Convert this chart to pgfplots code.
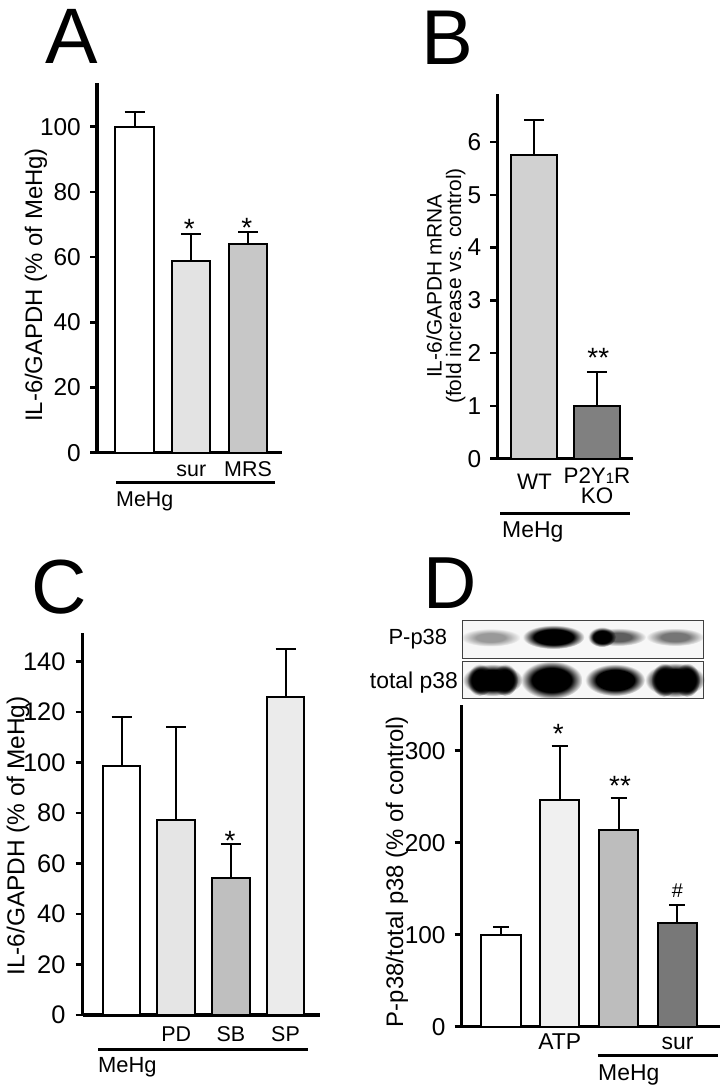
\documentclass[border=0pt]{standalone}
\usepackage{pgfplots}
\pgfplotsset{compat=1.18}
\usepackage{fontspec}
\setmainfont{Liberation Sans}
\newcommand{\fs}[1]{\fontsize{#1}{#1}\selectfont}

\definecolor{colA2}{gray}{0.89}
\definecolor{colA3}{gray}{0.78}
\definecolor{colB1}{gray}{0.82}
\definecolor{colB2}{gray}{0.50}
\definecolor{colC2}{gray}{0.90}
\definecolor{colC3}{gray}{0.75}
\definecolor{colC4}{gray}{0.92}
\definecolor{colD2}{gray}{0.94}
\definecolor{colD3}{gray}{0.74}
\definecolor{colD4}{gray}{0.47}
\definecolor{bandL}{gray}{0.62}
\definecolor{bandM}{gray}{0.48}
\definecolor{bandN}{gray}{0.38}

\pgfdeclareradialshading{bandK}{\pgfpoint{0bp}{0bp}}{color(0bp)=(black); color(16bp)=(black); color(25bp)=(white); color(50bp)=(white)}
\pgfdeclareradialshading{bandL}{\pgfpoint{0bp}{0bp}}{color(0bp)=(bandL); color(12bp)=(bandL); color(25bp)=(white); color(50bp)=(white)}
\pgfdeclareradialshading{bandM}{\pgfpoint{0bp}{0bp}}{color(0bp)=(bandM); color(12bp)=(bandM); color(25bp)=(white); color(50bp)=(white)}
\pgfdeclareradialshading{bandN}{\pgfpoint{0bp}{0bp}}{color(0bp)=(bandN); color(12bp)=(bandN); color(25bp)=(white); color(50bp)=(white)}

\pgfplotsset{
  panel/.style={
    scale only axis, anchor=south west,
    axis x line*=bottom, axis y line*=left,
    axis line style={line width=3.5bp, black},
    ymin=0, xtick=\empty,
    tick align=outside, major tick length=7bp,
    ytick style={line width=2.5bp, black},
    /pgf/number format/assume math mode=true,
    yticklabel style={font=\fs{24.5}, inner sep=0bp, xshift=-9bp},
    ybar, bar shift=0pt, clip=false,
    error bars/y dir=plus, error bars/y explicit,
    error bars/error bar style={line width=2bp, black},
    error bars/error mark options={rotate=90, line width=2bp, black, mark size=10bp},
  },
  b/.style={draw=black, line width=2bp, bar shift=0pt, fill=#1},
}

\begin{document}
\begin{tikzpicture}[x=1bp,y=1bp]
\path[use as bounding box] (0,0) rectangle (727,1090);

% ---------------- Panel A ----------------
\begin{axis}[panel, at={(97bp,637.3bp)}, width=185bp, height=369.4bp,
  xmin=0.339, xmax=3.599, ymax=113.3, ytick={0,20,...,100}, bar width=0.678]
\addplot[b=white] coordinates {(1,100) +- (0,4.6)};
\addplot[b=colA2] coordinates {(2,58.8) +- (0,8.2)};
\addplot[b=colA3] coordinates {(3,63.9) +- (0,3.9)};
\node[anchor=base, font=\fs{21.5}, yshift=-24bp] at (axis cs:2,0) {sur};
\node[anchor=base, font=\fs{21.5}, yshift=-24bp] at (axis cs:3,0) {MRS};
\end{axis}
\node[anchor=base west, inner sep=0, font=\fs{79}] at (45,1026.7) {A};
\node[rotate=90, font=\fs{24}] at (36,805) {IL-6/GAPDH (\% of MeHg)};
\draw[line width=3bp] (116,607.7) -- (275,607.7);
\node[anchor=base west, inner sep=0, font=\fs{21.5}] at (116,583) {MeHg};
\node[anchor=base, inner sep=0, font=\fs{28}] at (189.3,851) {*};
\node[anchor=base, inner sep=0, font=\fs{28}] at (246.7,852) {*};

% ---------------- Panel B ----------------
\begin{axis}[panel, at={(497.3bp,631.3bp)}, width=136bp, height=364.7bp,
  xmin=0.405, xmax=2.581, ymax=6.91, ytick={0,1,...,6}, bar width=0.736]
\addplot[b=colB1] coordinates {(1,5.76) +- (0,0.66)};
\addplot[b=colB2] coordinates {(2,1.006) +- (0,0.64)};
\node[anchor=base, font=\fs{22.5}, yshift=-31.3bp] at (axis cs:1,0) {WT};
\node[anchor=base, font=\fs{22.5}, yshift=-24.6bp] at (axis cs:2,0) {P2Y{\fs{15}1}R};
\node[anchor=base, font=\fs{22.5}, yshift=-44.9bp] at (axis cs:2,0) {KO};
\end{axis}
\node[anchor=base west, inner sep=0, font=\fs{78}] at (421,1025.8) {B};
\node[rotate=90, align=center, font=\fontsize{21}{19.5}\selectfont] at (446,804) {IL-6/GAPDH mRNA\\(fold increase vs. control)};
\draw[line width=3bp] (500,576.2) -- (630,576.2);
\node[anchor=base west, inner sep=0, font=\fs{23}] at (502,552) {MeHg};
\node[anchor=base, inner sep=0, font=\fs{28}] at (598.3,722) {**};

% ---------------- Panel C ----------------
\begin{axis}[panel, at={(82.7bp,75bp)}, width=237.3bp, height=382bp,
  xmin=0.290, xmax=4.631, ymax=151.3, ytick={0,20,...,140}, bar width=0.686,
  yticklabel style={font=\fs{25.5}, xshift=-1bp}]
\addplot[b=white] coordinates {(1,98.5) +- (0,19.5)};
\addplot[b=colC2] coordinates {(2,77.4) +- (0,36.6)};
\addplot[b=colC3] coordinates {(3,54.2) +- (0,13.6)};
\addplot[b=colC4] coordinates {(4,126.0) +- (0,18.8)};
\node[anchor=base, font=\fs{21.5}, yshift=-26.7bp] at (axis cs:2,0) {PD};
\node[anchor=base, font=\fs{21.5}, yshift=-26.7bp] at (axis cs:3,0) {SB};
\node[anchor=base, font=\fs{21.5}, yshift=-26.7bp] at (axis cs:4,0) {SP};
\end{axis}
\node[anchor=base west, inner sep=0, font=\fs{77}] at (31,476) {C};
\node[rotate=90, font=\fs{24.5}] at (18,254) {IL-6/GAPDH (\% of MeHg)};
\draw[line width=3bp] (98,40) -- (308,40);
\node[anchor=base west, inner sep=0, font=\fs{22}] at (98,17) {MeHg};
\node[anchor=base, inner sep=0, font=\fs{28}] at (230,239.5) {*};

% ---------------- Panel D ----------------
\begin{axis}[panel, at={(461.7bp,63.3bp)}, width=258.3bp, height=321.7bp,
  xmin=0.336, xmax=4.722, ymax=349.7, ytick={0,100,...,300}, bar width=0.67,
  error bars/error mark options={rotate=90, line width=2bp, black, mark size=8bp}]
\addplot[b=white] coordinates {(1,100) +- (0,8.5)};
\addplot[b=colD2] coordinates {(2,246.4) +- (0,58.4)};
\addplot[b=colD3] coordinates {(3,213.4) +- (0,34.9)};
\addplot[b=colD4] coordinates {(4,113.2) +- (0,18.7)};
\node[anchor=base, font=\fs{23}, yshift=-23.3bp] at (axis cs:2,0) {ATP};
\node[anchor=base, font=\fs{23}, yshift=-23.3bp] at (axis cs:4,0) {sur};
\end{axis}
\node[anchor=base west, inner sep=0, font=\fs{74}] at (423,481.7) {D};
\node[rotate=90, font=\fs{24}] at (397,218.5) {P-p38/total p38 (\% of control)};
\draw[line width=3bp] (597.7,34.3) -- (718.3,34.3);
\node[anchor=base west, inner sep=0, font=\fs{23}] at (598,9) {MeHg};
\node[anchor=base, inner sep=0, font=\fs{28}] at (558.3,346) {*};
\node[anchor=base, inner sep=0, font=\fs{28}] at (620,294) {**};
\node[anchor=base, inner sep=0, font=\fs{20}] at (677.3,192) {\#};

% blots
\node[anchor=base east, inner sep=0, font=\fs{22}] at (447.3,445) {P-p38};
\node[anchor=base east, inner sep=0, font=\fs{23}] at (458,401.7) {total p38};
\fill[gray!6] (462.7,431.7) rectangle (703.3,469.3);
\fill[gray!6] (462.7,391.7) rectangle (703.3,428.3);
\begin{scope}[blend mode=multiply]
\shade[shading=bandL] (490.5,452.5) ellipse (30 and 9);
\shade[shading=bandK] (553.5,453) ellipse (31 and 12);
\shade[shading=bandN] (618,453) ellipse (28 and 9);
\shade[shading=bandK] (602,453) ellipse (14 and 10);
\shade[shading=bandM] (675,453) ellipse (29 and 9);
\shade[shading=bandK] (492.5,410) ellipse (30 and 16);
\shade[shading=bandK] (480,410) ellipse (13 and 16);
\shade[shading=bandK] (505,410) ellipse (13 and 16);
\shade[shading=bandK] (551.5,410) ellipse (31 and 19);
\shade[shading=bandK] (615,410) ellipse (30 and 16);
\shade[shading=bandK] (675,410) ellipse (30 and 17);
\shade[shading=bandK] (664,410) ellipse (13 and 17);
\shade[shading=bandK] (687,410) ellipse (13 and 17);
\end{scope}
\draw[line width=1.5bp, black!75] (462.7,431.7) rectangle (703.3,469.3);
\draw[line width=1.5bp, black!75] (462.7,391.7) rectangle (703.3,428.3);
\end{tikzpicture}
\end{document}
